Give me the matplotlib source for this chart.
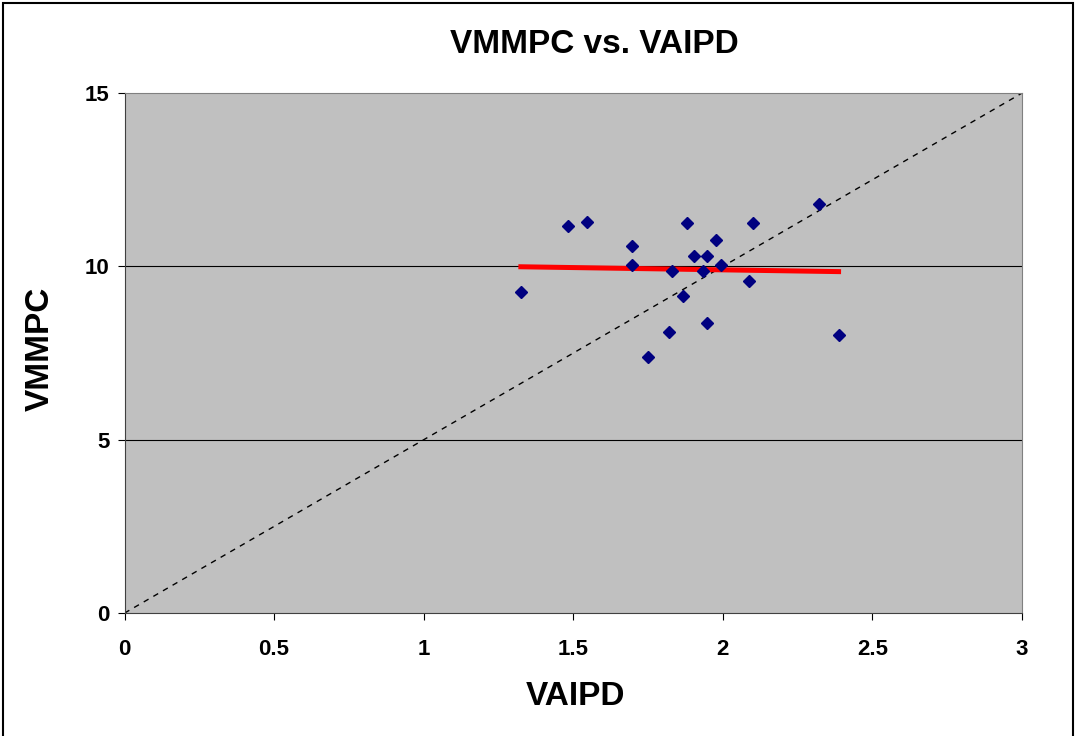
import numpy as np
import matplotlib
matplotlib.use("Agg")
from matplotlib import pyplot as plt
from matplotlib.patches import Rectangle

plt.rcParams['font.family'] = ['Liberation Sans', 'DejaVu Sans']
plt.rcParams['font.weight'] = 'bold'

# data
vaipd = [1.325, 1.481, 1.546, 1.696, 1.696, 1.750, 1.821, 1.831, 1.868, 1.880,
         1.904, 1.934, 1.946, 1.946, 1.976, 1.993, 2.089, 2.101, 2.322, 2.387]
vmmpc = [9.25, 11.16, 11.27, 10.59, 10.05, 7.39, 8.11, 9.87, 9.14, 11.26,
         10.29, 9.87, 10.29, 8.38, 10.75, 10.05, 9.57, 11.26, 11.79, 8.02]
xticks = [0, 0.5, 1, 1.5, 2, 2.5, 3]
xticklabels = ['0', '0.5', '1', '1.5', '2', '2.5', '3']
yticks = [0, 5, 10, 15]

fig = plt.figure(figsize=(10.78, 7.36), dpi=100)
ax = fig.add_axes([0.1155, 0.167, 0.8325, 0.7065])
ax.set_facecolor('#C0C0C0')

ax.set_xlim(0, 3)
ax.set_ylim(0, 15)
for yv in [5, 10]:
    ax.axhline(yv, color='black', lw=0.8, zorder=1)

# 1:1 line
ax.plot([0, 3], [0, 15], ls=(0, (4, 4)), color='black', lw=1.0, zorder=2)

# linear trend line
x = np.array(vaipd)
y = np.array(vmmpc)
m, b = np.polyfit(x, y, 1)
xs = np.array([x.min(), x.max()])
ax.plot(xs, m * xs + b, color='#FF0000', lw=3.6, zorder=3)

ax.plot(vaipd, vmmpc, ls='none', marker='D', markersize=6, color='#000080', zorder=4)

ax.set_xticks(xticks)
ax.set_xticklabels(xticklabels)
ax.set_yticks(yticks)
ax.tick_params(labelsize=16, length=5, width=0.8, colors='black')
ax.tick_params(axis='x', pad=14)
ax.tick_params(axis='y', pad=6)
for s in ['top', 'right']:
    ax.spines[s].set_color('#808080')
for s in ['left', 'bottom']:
    ax.spines[s].set_color('#404040')

fig.text(0.551, 0.940, 'VMMPC vs. VAIPD', fontsize=24, fontweight='bold',
         ha='center', va='center')
fig.text(0.534, 0.053, 'VAIPD', fontsize=24, fontweight='bold',
         ha='center', va='center')
fig.text(0.037, 0.526, 'VMMPC', fontsize=24, fontweight='bold',
         ha='center', va='center', rotation=90)

fig.patches.append(Rectangle((0.003, -0.01), 0.992, 1.006, transform=fig.transFigure,
                             fill=False, edgecolor='black', lw=1.5))

fig.savefig('out.png', dpi=100)
